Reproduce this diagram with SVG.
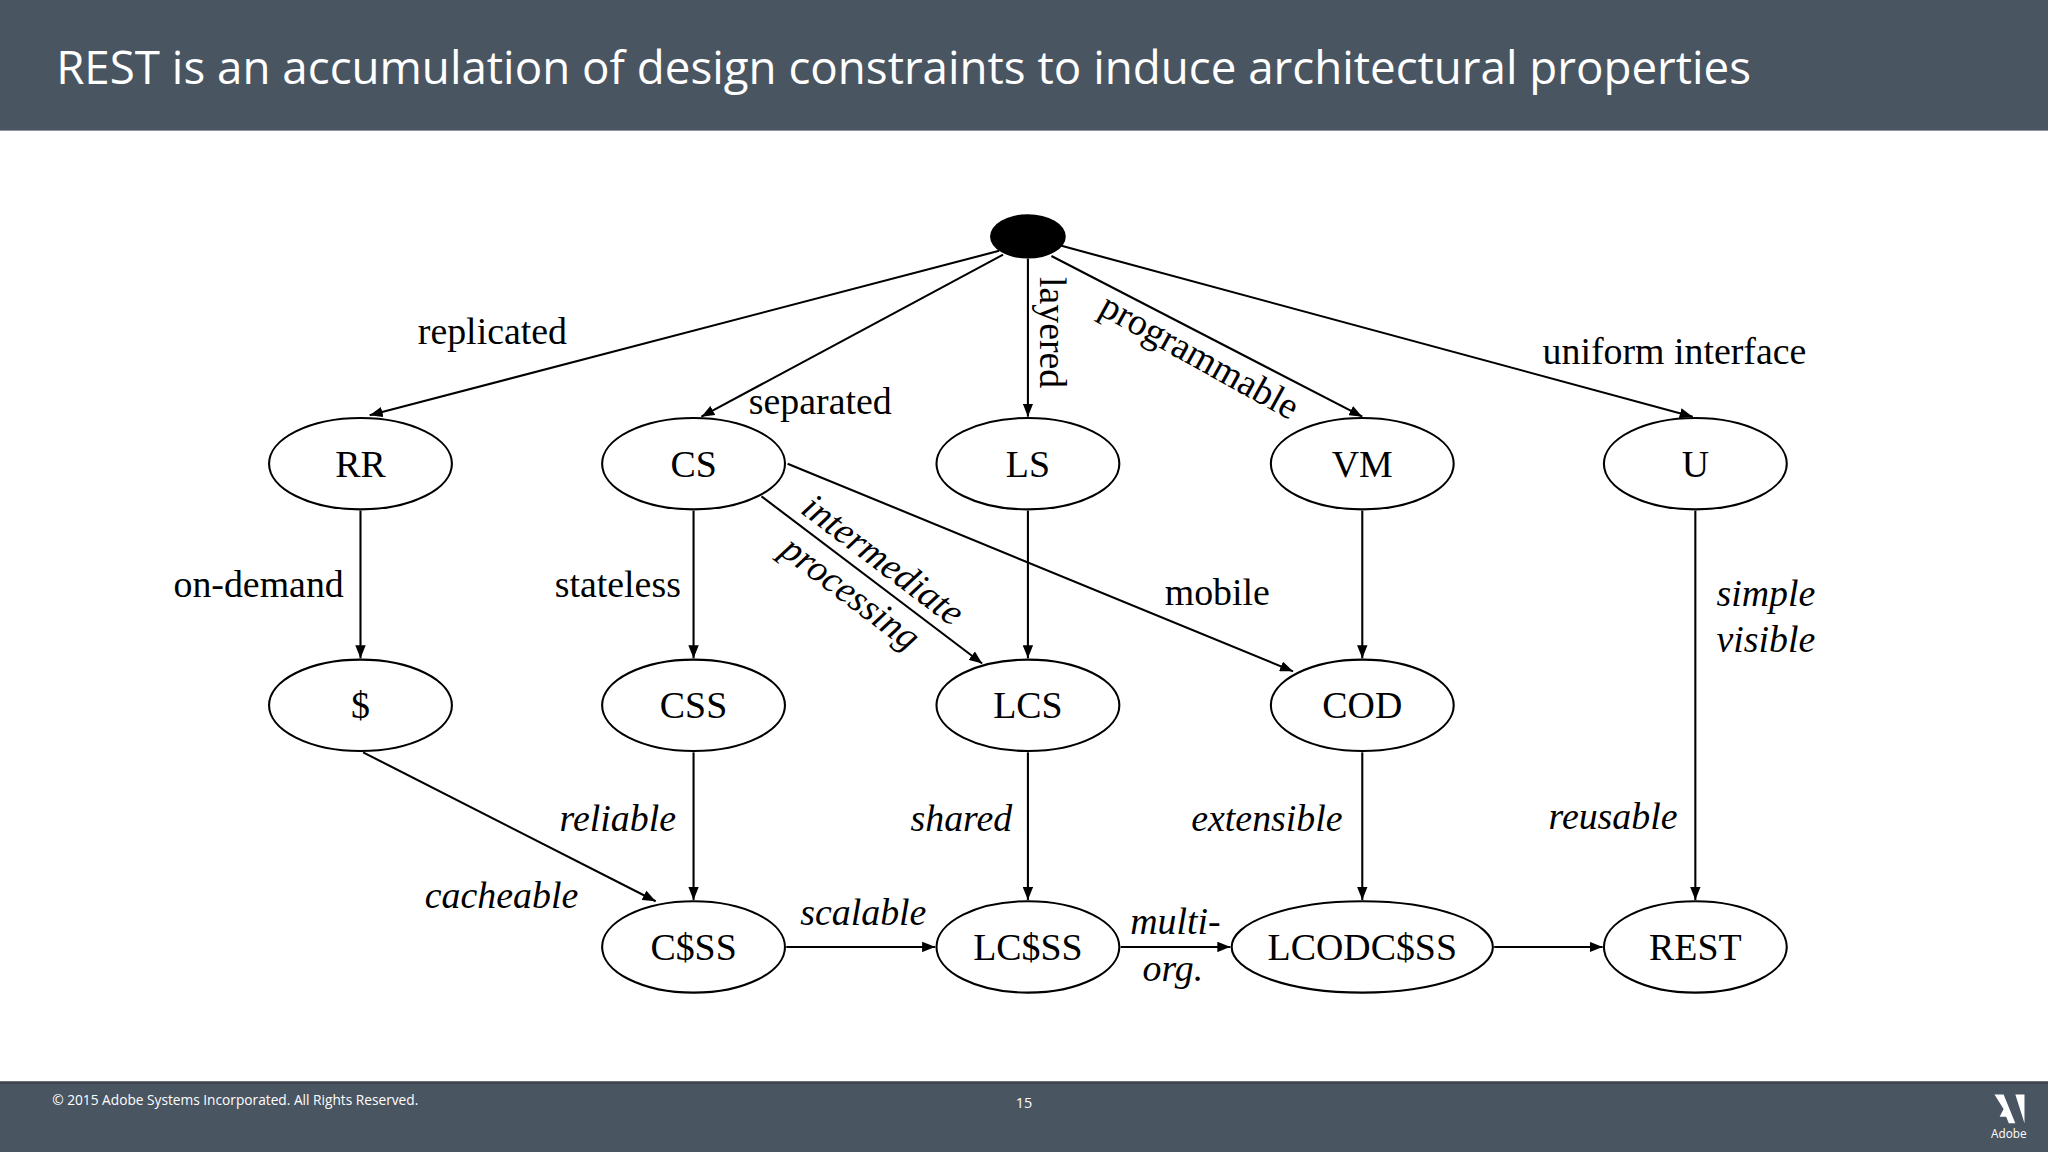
<svg xmlns="http://www.w3.org/2000/svg" width="2048" height="1152" viewBox="0 0 2048 1152">
<style>
.n ellipse{fill:#fff;stroke:#000;stroke-width:1.6}
.n text{font-family:"Liberation Serif",serif;font-size:29px;text-anchor:middle;fill:#000}
.e line{stroke:#000;stroke-width:1.6;marker-end:url(#a)}
.l{font-family:"Liberation Serif",serif;font-size:29px;fill:#000;text-anchor:middle}
.i{font-style:italic}
</style>
<defs><marker id="a" viewBox="0 0 10 8" refX="10" refY="4" markerWidth="10" markerHeight="8" markerUnits="userSpaceOnUse" orient="auto"><path d="M0,0L10,4L0,8z" fill="#000" transform="scale(1)"/></marker></defs>
<rect width="2048" height="1152" fill="#fff"/>
<g transform="scale(1.30612)">
<rect width="1568" height="100" fill="#4a5562"/>
<text x="43" y="64" font-family="'Open Sans',Lato,sans-serif" font-size="35" fill="#fff">REST is an accumulation of design constraints to induce architectural properties</text>
<rect y="828" width="1568" height="54" fill="#4a5562"/>
<rect y="828" width="1568" height="2" fill="#3e4650"/>
<text x="40" y="846" font-family="'Open Sans',sans-serif" font-size="10.5" fill="#fff">© 2015 Adobe Systems Incorporated.  All Rights Reserved.</text>
<text x="784" y="848" font-family="'Open Sans',sans-serif" font-size="11" fill="#fff" text-anchor="middle">15</text>
<path d="M1527,838h7l9,22h-5l-2-5h-5l3-6zM1543,838h7v22z M1525,860l9-22" fill="#fff"/>
<text x="1538" y="871" font-family="'Open Sans',sans-serif" font-size="9" fill="#fff" text-anchor="middle">Adobe</text>

<g id="edges" class="e">
<line x1="765" y1="192" x2="283" y2="318"/>
<line x1="768" y1="195" x2="537" y2="319"/>
<line x1="787" y1="198" x2="787" y2="319"/>
<line x1="805" y1="196" x2="1043" y2="319"/>
<line x1="812" y1="188" x2="1296" y2="319"/>
<line x1="276" y1="391" x2="276" y2="504"/>
<line x1="531" y1="391" x2="531" y2="504"/>
<line x1="583" y1="380" x2="752" y2="508"/>
<line x1="603" y1="355" x2="990" y2="514"/>
<line x1="787" y1="391" x2="787" y2="504"/>
<line x1="1043" y1="391" x2="1043" y2="504"/>
<line x1="1298" y1="391" x2="1298" y2="689"/>
<line x1="278" y1="576" x2="502" y2="690"/>
<line x1="531" y1="576" x2="531" y2="689"/>
<line x1="787" y1="576" x2="787" y2="689"/>
<line x1="1043" y1="576" x2="1043" y2="689"/>
<line x1="602" y1="725" x2="716" y2="725"/>
<line x1="858" y1="725" x2="942" y2="725"/>
<line x1="1144" y1="725" x2="1227" y2="725"/>
</g>
<g id="labels">
<text class="l" x="377" y="263">replicated</text>
<text class="l" x="628" y="317">separated</text>
<text class="l" transform="translate(796,212) rotate(90)" text-anchor="start" style="text-anchor:start">layered</text>
<text class="l" transform="translate(840,240) rotate(29)" style="text-anchor:start">programmable</text>
<text class="l" x="1282" y="279">uniform interface</text>
<text class="l" x="198" y="457">on-demand</text>
<text class="l" x="473" y="457">stateless</text>
<text class="l i" transform="translate(612,392) rotate(37)" style="text-anchor:start">intermediate</text>
<text class="l i" transform="translate(596,424) rotate(37)" style="text-anchor:start">processing</text>
<text class="l" x="932" y="463">mobile</text>
<text class="l i" x="1352" y="464">simple</text>
<text class="l i" x="1352" y="499">visible</text>
<text class="l i" x="384" y="695">cacheable</text>
<text class="l i" x="473" y="636">reliable</text>
<text class="l i" x="736" y="636">shared</text>
<text class="l i" x="970" y="636">extensible</text>
<text class="l i" x="1235" y="635">reusable</text>
<text class="l i" x="661" y="708">scalable</text>
<text class="l i" x="900" y="715">multi-</text>
<text class="l i" x="898" y="751">org.</text>
</g>
<g id="root"><ellipse cx="787" cy="181" rx="29" ry="17" fill="#000"/></g>
<g id="RR" class="n"><ellipse cx="276" cy="355" rx="70" ry="35"/><text x="276" y="365">RR</text></g>
<g id="CS" class="n"><ellipse cx="531" cy="355" rx="70" ry="35"/><text x="531" y="365">CS</text></g>
<g id="LS" class="n"><ellipse cx="787" cy="355" rx="70" ry="35"/><text x="787" y="365">LS</text></g>
<g id="VM" class="n"><ellipse cx="1043" cy="355" rx="70" ry="35"/><text x="1043" y="365">VM</text></g>
<g id="U" class="n"><ellipse cx="1298" cy="355" rx="70" ry="35"/><text x="1298" y="365">U</text></g>
<g id="D" class="n"><ellipse cx="276" cy="540" rx="70" ry="35"/><text x="276" y="550">$</text></g>
<g id="CSS" class="n"><ellipse cx="531" cy="540" rx="70" ry="35"/><text x="531" y="550">CSS</text></g>
<g id="LCS" class="n"><ellipse cx="787" cy="540" rx="70" ry="35"/><text x="787" y="550">LCS</text></g>
<g id="COD" class="n"><ellipse cx="1043" cy="540" rx="70" ry="35"/><text x="1043" y="550">COD</text></g>
<g id="CDSS" class="n"><ellipse cx="531" cy="725" rx="70" ry="35"/><text x="531" y="735">C$SS</text></g>
<g id="LCDSS" class="n"><ellipse cx="787" cy="725" rx="70" ry="35"/><text x="787" y="735">LC$SS</text></g>
<g id="LCODCDSS" class="n"><ellipse cx="1043" cy="725" rx="100" ry="35"/><text x="1043" y="735">LCODC$SS</text></g>
<g id="REST" class="n"><ellipse cx="1298" cy="725" rx="70" ry="35"/><text x="1298" y="735">REST</text></g>
</g>
</svg>
